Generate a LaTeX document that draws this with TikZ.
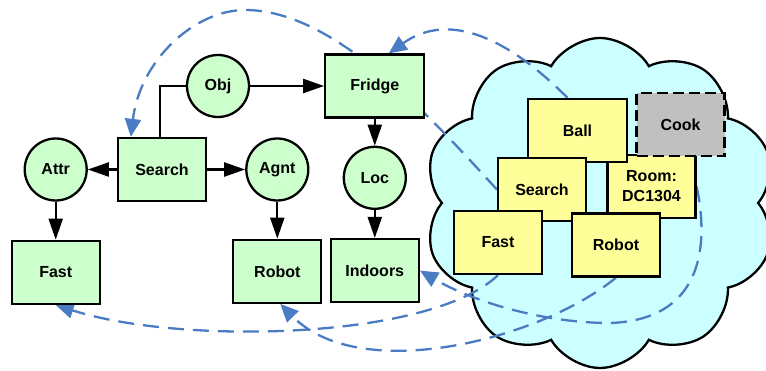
\documentclass[tikz,border=0pt]{standalone}
\usepackage{fontspec}
\setmainfont{Liberation Sans}
\usetikzlibrary{arrows.meta,positioning,shapes.symbols}
\pgfdeclarelayer{cloudback}
\pgfdeclarelayer{background}
\pgfsetlayers{cloudback,background,main}
\definecolor{concept}{HTML}{CCFFCC}
\definecolor{percept}{HTML}{FFFF99}
\definecolor{unknown}{HTML}{C0C0C0}
\definecolor{scenefill}{HTML}{CCFFFF}
\definecolor{link}{HTML}{4A7CC4}

\begin{document}
\begin{tikzpicture}[x=1pt,y=-1pt,
    font=\fontsize{16}{20}\selectfont\bfseries,
    box/.style={draw,line width=2.3pt,fill=concept,
                minimum width=88pt,minimum height=63pt,align=center},
    rel/.style={circle,draw,line width=2.3pt,fill=concept,
                minimum size=62pt,inner sep=0pt},
    obs/.style={box,fill=percept},
    guess/.style={obs,fill=unknown,dash pattern=on 11pt off 5pt},
    edge/.style={-{Triangle[length=21pt,width=14pt]},line width=2.2pt},
    ref/.style={-{Triangle[length=18pt,width=16pt]},line width=2.3pt,link,
                dash pattern=on 16pt off 9pt}
  ]
    \useasboundingbox (0,0) rectangle (766,371);
    % semantic graph
    \node[box] (search) at (162,169.5) {Search};
    \node[rel,left=29pt of search] (attr) {Attr};
    \node[rel,right=38pt of search] (agnt) {Agnt};
    \node[rel] (obj) at (218,86) {Obj};
    \node[box,minimum width=99pt,right=74pt of obj] (fridge) {Fridge};
    \node[rel,below=27pt of fridge] (loc) {Loc};
    \node[box,below=28pt of loc] (indoors) {Indoors};
    \node[box,below=38pt of attr] (fast) {Fast};
    \node[box,below=37pt of agnt] (robot) {Robot};
    \draw[edge] (search) -- (attr);
    \draw[edge] (search) -- (agnt);
    \draw[line width=2.2pt] ([xshift=-2pt]search.north) |- (obj.west);
    \draw[edge] (obj) -- (fridge);
    \draw[edge] (fridge) -- (loc);
    \draw[edge] (loc) -- (indoors);
    \draw[edge] (attr) -- (fast);
    \draw[edge] (agnt) -- (robot);
    % observed scene
    \node[obs] (room) at (651.5,186.5) {Room:\\DC1304};
    \node[obs,minimum width=99pt] (ball) at (577.5,130.5) {Ball};
    \node[guess] (cook) at (680.5,124.5) {Cook};
    \node[obs] (ysearch) at (542,189.5) {Search};
    \node[obs] (yfast) at (498,242.5) {Fast};
    \node[obs] (yrobot) at (616,245) {Robot};
    \begin{pgfonlayer}{cloudback}
      \node[cloud,draw,line width=2.3pt,fill=scenefill,cloud puffs=10,
            cloud puff arc=120,cloud ignores aspect,
            minimum width=352pt,minimum height=330pt] (scene) at (600,203) {};
    \end{pgfonlayer}
    \begin{pgfonlayer}{background}
      \draw[ref] (ysearch.west) .. controls (420,105) and (330,10) .. (245,10)
        .. controls (195,10) and (140,60) .. ([xshift=14pt]search.north west);
      \draw[ref] ([xshift=-10pt]ball.north) .. controls (510,40) and (450,10)
        .. ([xshift=14pt]fridge.north);
      \draw[ref] (room.east) .. controls (710,250) and (700,320) .. (610,323)
        .. controls (540,323) and (470,300) .. (indoors.east);
      \draw[ref] (yfast.south) .. controls (430,340) and (180,345)
        .. (fast.south);
      \draw[ref] (yrobot.south) .. controls (540,340) and (360,385)
        .. ([xshift=3pt]robot.south);
    \end{pgfonlayer}
  \end{tikzpicture}
\end{document}
